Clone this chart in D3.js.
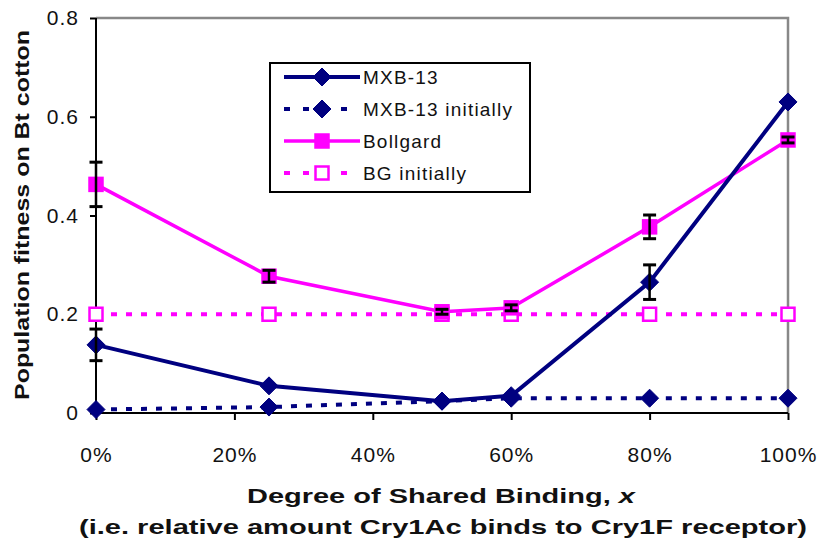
<!DOCTYPE html>
<html>
<head>
<meta charset="utf-8">
<script src="https://cdn.jsdelivr.net/npm/d3@7/dist/d3.min.js"></script>
<style>
  body { margin: 0; background: #fff; }
  svg { font-family: "Liberation Sans", Arial, sans-serif; }
</style>
</head>
<body>
<svg width="823" height="548"></svg>
<script>
// shared binding levels (%)
const X_VALUES = [0, 25, 50, 60, 80, 100];
const X_TICKS = [0, 20, 40, 60, 80, 100];
const Y_TICKS = [0, 0.2, 0.4, 0.6, 0.8];

const MXB13 = [0.138, 0.055, 0.024, 0.035, 0.265, 0.63];
const MXB13_ERR = [0.032, 0, 0, 0, 0.035, 0];
const MXB13_INIT = [0.007, 0.012, 0.024, 0.03, 0.03, 0.03];
const BOLLGARD = [0.463, 0.277, 0.205, 0.213, 0.377, 0.553];
const BOLLGARD_ERR = [0.045, 0.012, 0.005, 0.006, 0.024, 0.006];
const BG_INIT = [0.2, 0.2, 0.2, 0.2, 0.2, 0.2];

const NAVY = '#000080';
const PINK = '#ff00ff';

const svg = d3.select('svg');

const x = d3.scaleLinear().domain([0, 100]).range([96, 788]);
const y = d3.scaleLinear().domain([0, 0.8]).range([413, 18]);

// gray frame on top and right (excel style)
svg.append('path')
    .attr('d', `M${x(0)},${y(0.8)}H${x(100)}V${y(0)}`)
    .attr('fill', 'none')
    .attr('stroke', '#888')
    .attr('stroke-width', 2.5);

// axes
const yAxis = svg.append('g')
    .attr('transform', `translate(${x(0)},0)`)
    .call(d3.axisLeft(y).tickValues(Y_TICKS).tickSize(6).tickPadding(11)
        .tickFormat(d => d === 0 ? '0' : d.toFixed(1)));

const xAxis = svg.append('g')
    .attr('transform', `translate(0,${y(0)})`)
    .call(d3.axisBottom(x).tickValues(X_TICKS).tickSize(7).tickPadding(27)
        .tickFormat(d => d + '%'));

[yAxis, xAxis].forEach(a => {
    a.select('.domain').attr('stroke', '#000').attr('stroke-width', 2);
    a.selectAll('.tick line').attr('stroke', '#000').attr('stroke-width', 2);
    a.selectAll('.tick text').attr('fill', '#111')
        .style('font-size', '21px').style('letter-spacing', '1px');
});
xAxis.select('.domain').attr('d', `M${x(0)},0H${x(100)}`);
yAxis.select('.domain').attr('d', `M0,${y(0)}V${y(0.8)}`);

// axis titles
svg.append('text')
    .attr('transform', `translate(29,215) rotate(-90)`)
    .attr('text-anchor', 'middle')
    .attr('font-weight', 'bold')
    .style('font-size', '20px')
    .attr('textLength', 370)
    .attr('lengthAdjust', 'spacingAndGlyphs')
    .attr('fill', '#111')
    .text('Population fitness on Bt cotton');

const xt = svg.append('text')
    .attr('x', 441).attr('y', 503)
    .attr('text-anchor', 'middle')
    .attr('font-weight', 'bold')
    .style('font-size', '21px')
    .attr('textLength', 388)
    .attr('lengthAdjust', 'spacingAndGlyphs')
    .attr('fill', '#111');
xt.append('tspan').text('Degree of Shared Binding, ');
xt.append('tspan').attr('font-style', 'italic').text('x');

svg.append('text')
    .attr('x', 443).attr('y', 534)
    .attr('text-anchor', 'middle')
    .attr('font-weight', 'bold')
    .style('font-size', '21px')
    .attr('textLength', 728)
    .attr('lengthAdjust', 'spacingAndGlyphs')
    .attr('fill', '#111')
    .text('(i.e. relative amount Cry1Ac binds to Cry1F receptor)');

const series = [
    {name: 'MXB-13', values: MXB13, color: NAVY, dash: null, width: 4, marker: 'diamond', fill: NAVY},
    {name: 'MXB-13 initially', values: MXB13_INIT, color: NAVY, dash: '6,9', width: 4, marker: 'diamond', fill: NAVY},
    {name: 'Bollgard', values: BOLLGARD, color: PINK, dash: null, width: 3.5, marker: 'square', fill: PINK},
    {name: 'BG initially', values: BG_INIT, color: PINK, dash: '6,9', width: 4, marker: 'square', fill: '#fff'},
];

const line = d3.line().x(d => x(d[0])).y(d => y(d[1]));

function drawMarker(g, s, cx, cy) {
    if (s.marker === 'diamond') {
        g.append('path')
            .attr('d', `M${cx},${cy - 9}L${cx + 9},${cy}L${cx},${cy + 9}L${cx - 9},${cy}Z`)
            .attr('fill', s.fill).attr('stroke', s.color).attr('stroke-width', 1);
    } else {
        g.append('rect')
            .attr('x', cx - 6.5).attr('y', cy - 6.5)
            .attr('width', 13).attr('height', 13)
            .attr('fill', s.fill).attr('stroke', s.color).attr('stroke-width', 2.5);
    }
}

// draw dotted lines first, then solid
const order = [3, 1, 2, 0];
order.forEach(i => {
    const s = series[i];
    const pts = X_VALUES.map((xv, j) => [xv, s.values[j]]);
    const g = svg.append('g');
    g.append('path')
        .attr('d', line(pts))
        .attr('fill', 'none')
        .attr('stroke', s.color)
        .attr('stroke-width', s.width)
        .attr('stroke-dasharray', s.dash);
    pts.forEach(p => drawMarker(g, s, x(p[0]), y(p[1])));
});

// error bars
function errorBars(vals, errs) {
    const g = svg.append('g');
    X_VALUES.forEach((xv, j) => {
        if (!errs[j]) return;
        const cx = x(xv);
        const y1 = y(vals[j] + errs[j]), y2 = y(vals[j] - errs[j]);
        g.append('line').attr('x1', cx).attr('x2', cx).attr('y1', y1).attr('y2', y2)
            .attr('stroke', '#000').attr('stroke-width', 2.5);
        [y1, y2].forEach(yy => {
            g.append('line').attr('x1', cx - 6.5).attr('x2', cx + 6.5).attr('y1', yy).attr('y2', yy)
                .attr('stroke', '#000').attr('stroke-width', 3);
        });
    });
}
errorBars(MXB13, MXB13_ERR);
errorBars(BOLLGARD, BOLLGARD_ERR);

// legend
const legend = svg.append('g');
legend.append('rect')
    .attr('x', 270).attr('y', 63).attr('width', 260).attr('height', 129)
    .attr('fill', '#fff').attr('stroke', '#000').attr('stroke-width', 2);
series.forEach((s, i) => {
    const ly = 77 + i * 32;
    const g = legend.append('g');
    g.append('line')
        .attr('x1', 284).attr('x2', 360).attr('y1', ly).attr('y2', ly)
        .attr('stroke', s.color).attr('stroke-width', s.width)
        .attr('stroke-dasharray', s.dash ? '6,13' : null);
    drawMarker(g, s, 322, ly);
    g.append('text')
        .attr('x', 363).attr('y', ly + 7)
        .style('font-size', '19px')
        .style('letter-spacing', '1.2px')
        .attr('fill', '#111')
        .text(s.name);
});
</script>
</body>
</html>
